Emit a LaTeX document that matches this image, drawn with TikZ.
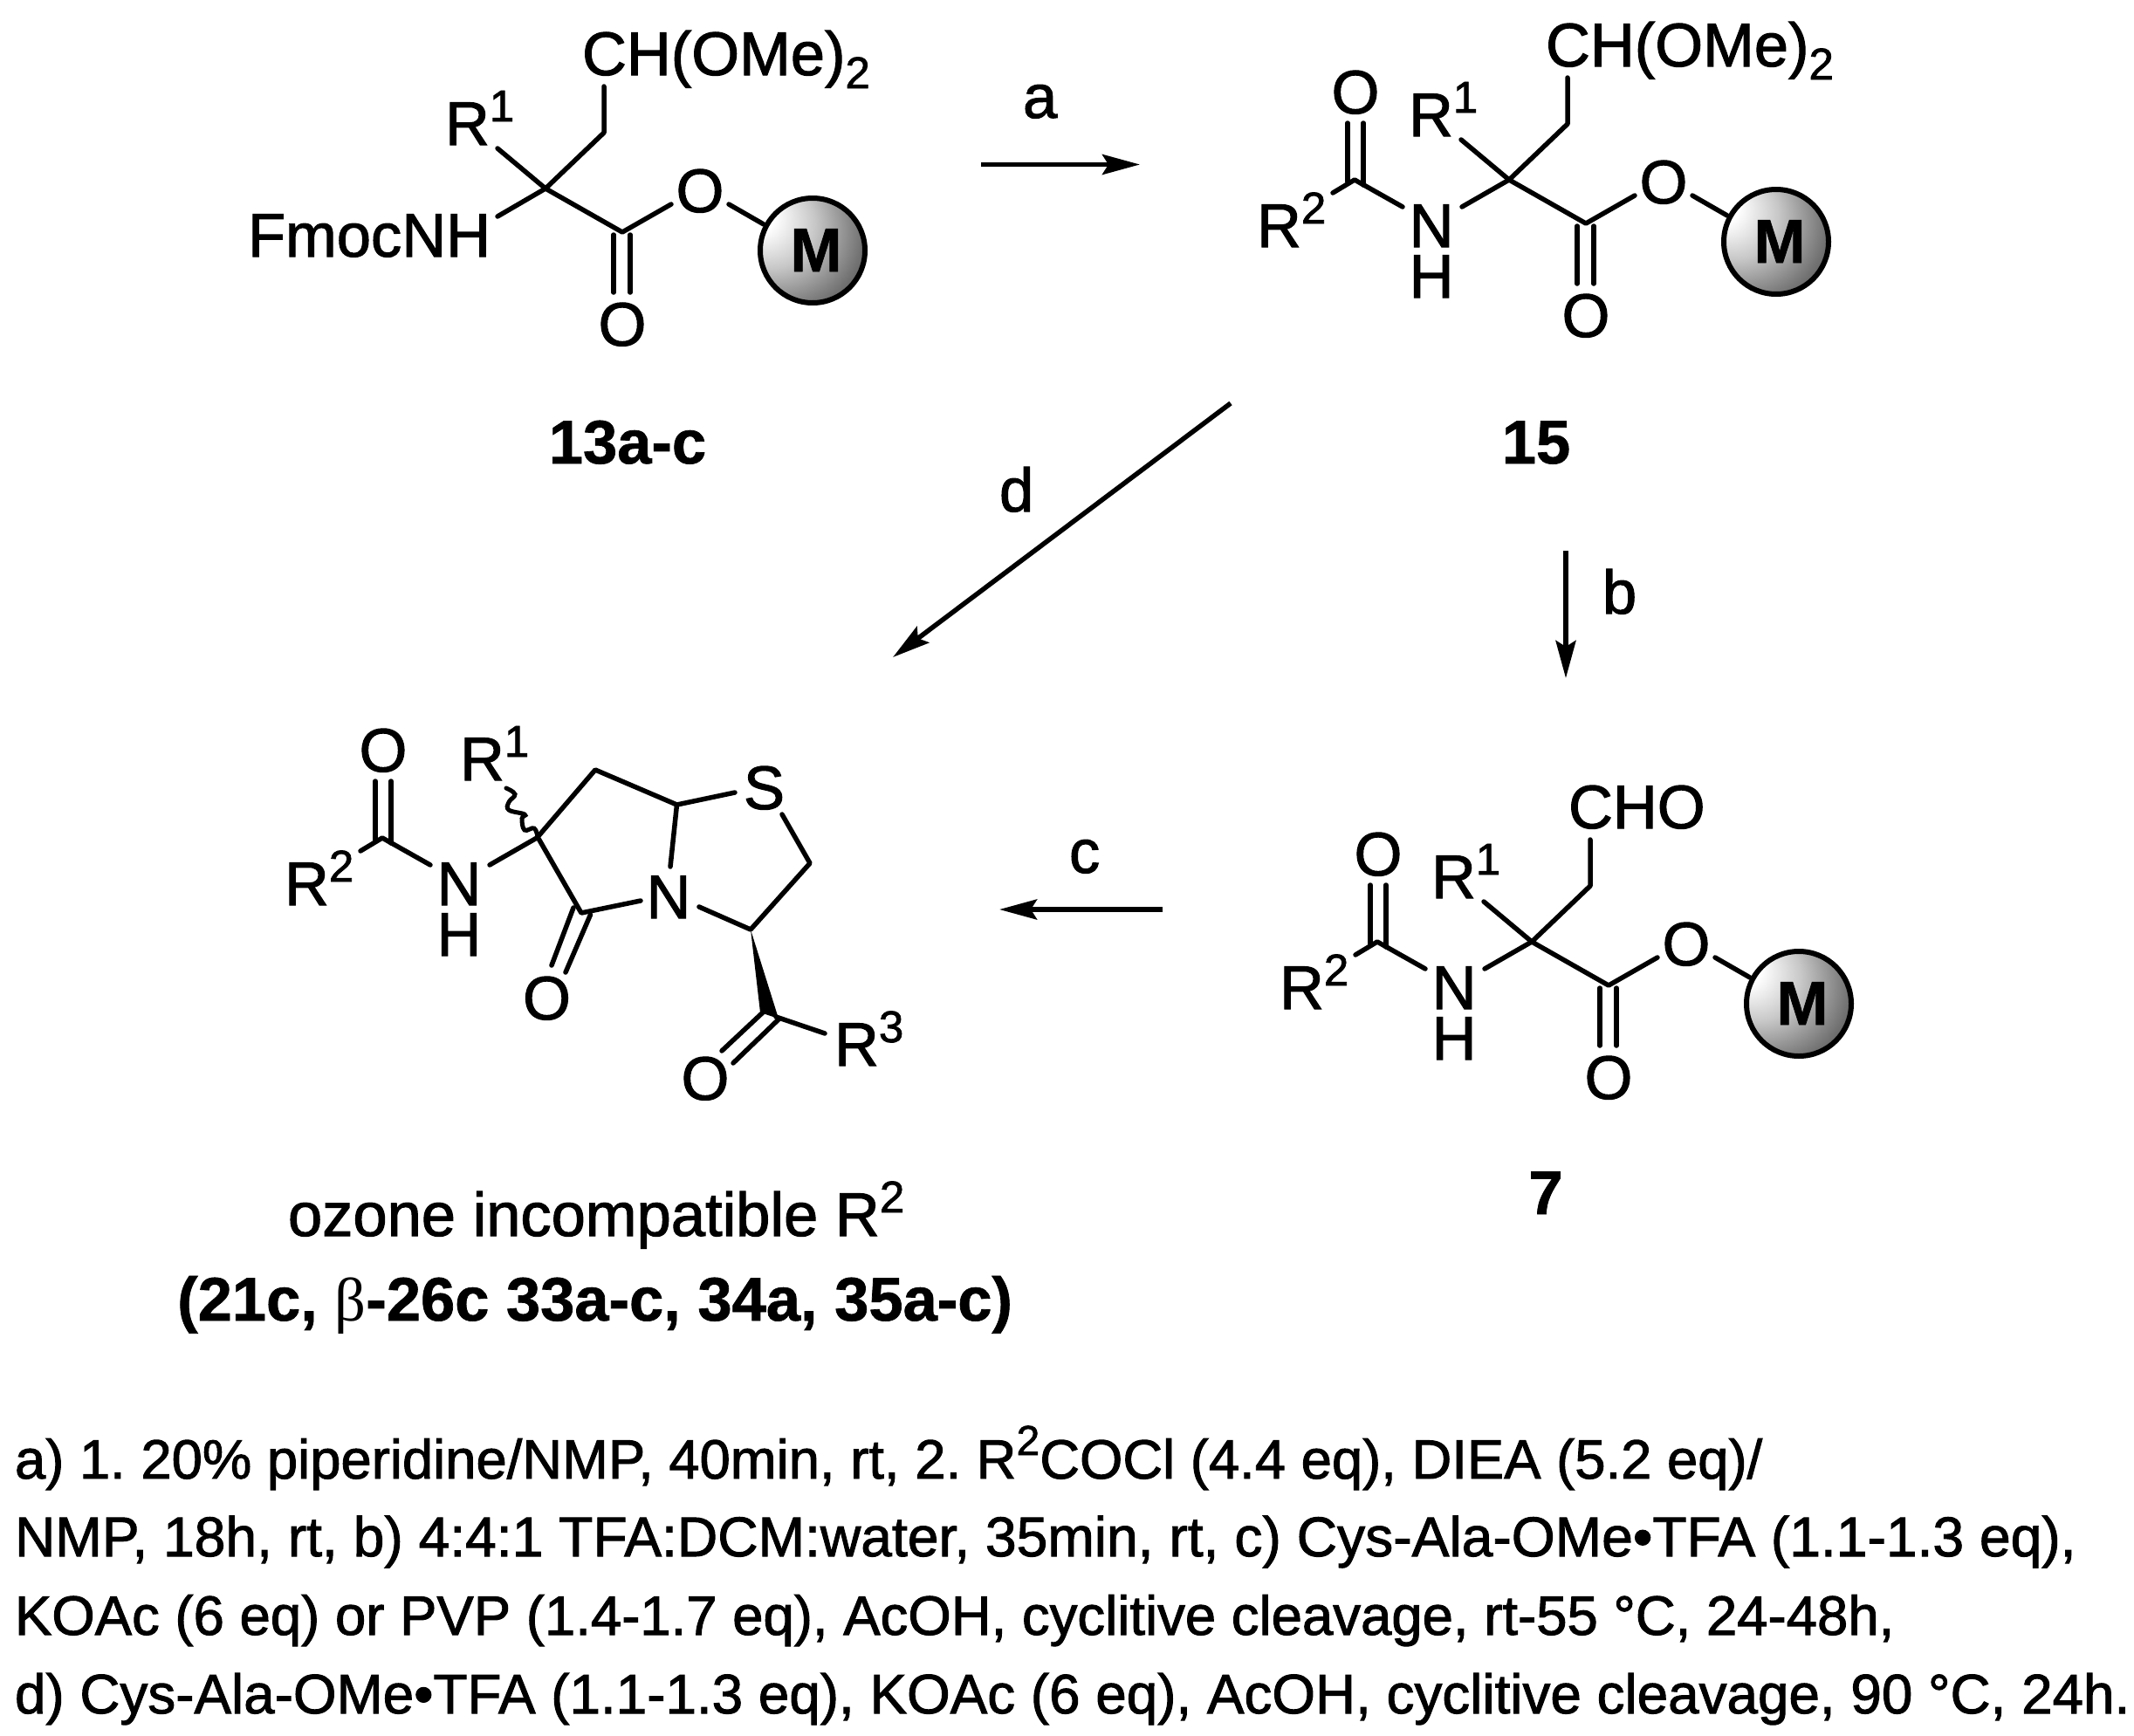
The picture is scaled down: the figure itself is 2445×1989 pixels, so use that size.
\documentclass[tikz,border=0pt]{standalone}
\usepackage{fontspec}
\setmainfont{Liberation Sans}[FakeBold=1.5,BoldFeatures={FakeBold=1}]
\newfontfamily\greekf{Liberation Serif}
\usetikzlibrary{arrows.meta}
\newcommand\chemf{\fontsize{70.5}{82}\selectfont}
\newcommand\notef{\fontsize{63.8}{72}\selectfont\frenchspacing}
\newcommand\upd[1]{\raisebox{27pt}{\fontsize{51}{51}\selectfont #1}}
\newcommand\dnd[1]{\raisebox{-15pt}{\fontsize{51}{51}\selectfont #1}}
\newcommand\nupd[1]{\raisebox{27pt}{\fontsize{48}{48}\selectfont #1}}
\pgfdeclareradialshading{mball}{\pgfpoint{-30bp}{19bp}}{%
  color(0bp)=(white); color(8bp)=(white); color(21bp)=(black!22);
  color(36bp)=(black!55); color(52bp)=(black!85); color(62bp)=(black)}
\tikzset{
  bond/.style={line width=5.5pt,line cap=round,line join=round},
  rxn/.style={line width=5.5pt,-{Stealth[length=43pt,width=23pt,inset=7pt]}},
  txt/.style={anchor=base west,inner sep=0pt,outer sep=0pt,font=\chemf},
  atom/.style={anchor=base,inner sep=0pt,outer sep=0pt,font=\chemf},
  cpd/.style={anchor=base,inner sep=0pt,outer sep=0pt,font=\chemf\bfseries},
  note/.style={anchor=base west,inner sep=0pt,outer sep=0pt,font=\notef},
  ball/.style={circle,draw=black,line width=6pt,shading=mball,minimum size=120pt,inner sep=0pt},
  mtxt/.style={anchor=base,inner sep=0pt,outer sep=0pt,font=\fontsize{71}{82}\selectfont\bfseries},
}
% resin-bound ester fragment, in the frame of compound 13
\newcommand\esterpart[4]{%
\begin{scope}[shift={(#2,#3)}]
  \coordinate (#1c) at (625,216);
  \coordinate (#1ch) at (692,152);
  \coordinate (#1tb) at (692,99);
  \coordinate (#1rb) at (570,170);
  \coordinate (#1co) at (713,266);
  \coordinate (#1oa) at (769,234);
  \coordinate (#1ob) at (835,234);
  \coordinate (#1mb) at (875,257);
  \coordinate (#1d1a) at (703,269);
  \coordinate (#1d1b) at (703,335);
  \coordinate (#1d2a) at (722,269);
  \coordinate (#1d2b) at (722,335);
  \draw[bond] (#1tb) -- (#1ch) -- (#1c) -- (#1co) -- (#1oa);
  \draw[bond] (#1rb) -- (#1c);
  \draw[bond] (#1d1a) -- (#1d1b);
  \draw[bond] (#1d2a) -- (#1d2b);
  \draw[bond] (#1ob) -- (#1mb);
  \node[ball] (#1ball) at (931,287) {};
  \node[mtxt] (#1mt) at (935,311) {M};
  \node[atom] (#1o1) at (802,243) {O};
  \node[atom] (#1o2) at (713,396) {O};
  \node[txt] (#1r1) at (510,166) {R\upd{1}};
  \node[txt] (#1top) at (667,86) {#4};
\end{scope}}
% amide fragment, in the frame of compound 15
\newcommand\amidepart[3]{%
\begin{scope}[shift={(#2,#3)}]
  \coordinate (#1ac) at (1552,206);
  \coordinate (#1r2b) at (1527,221);
  \coordinate (#1nb) at (1607,237);
  \coordinate (#1nc) at (1675,237);
  \coordinate (#1qc) at (1729,206);
  \coordinate (#1e1a) at (1544,141);
  \coordinate (#1e1b) at (1544,208);
  \coordinate (#1e2a) at (1562,141);
  \coordinate (#1e2b) at (1562,212);
  \draw[bond] (#1r2b) -- (#1ac) -- (#1nb);
  \draw[bond] (#1nc) -- (#1qc);
  \draw[bond] (#1e1a) -- (#1e1b);
  \draw[bond] (#1e2a) -- (#1e2b);
  \node[atom] (#1o3) at (1553,130) {O};
  \node[txt] (#1r2) at (1440,283) {R\upd{2}};
  \node[atom] (#1n) at (1640,283) {N};
  \node[atom] (#1h) at (1640,341) {H};
\end{scope}}
\begin{document}
\begin{tikzpicture}[x=1pt,y=-1pt]
\useasboundingbox (0,0) rectangle (2445,1989);
\fill[white] (0,0) rectangle (2445,1989);

% compound 13
\esterpart{A}{0}{0}{CH(OMe)\dnd{2}}
\coordinate (Anb) at (570,248);
\draw[bond] (Anb) -- (Ac);
\node[txt] (Afmoc) at (284,294) {FmocNH};
\node[cpd] (l13) at (719,531) {13a-c};

% compound 15
\esterpart{B}{1104}{-10}{CH(OMe)\dnd{2}}
\amidepart{Bp}{0}{0}
\node[cpd] (l15) at (1760,531) {15};

% compound 7
\esterpart{C}{1130}{863}{CHO}
\amidepart{Cp}{26}{873}
\node[cpd] (l7) at (1771,1391) {7};

% bicyclic product
\amidepart{D}{-1114}{754}
\coordinate (Dq) at (616,959);
\coordinate (Dch2) at (682,882);
\coordinate (Dch) at (775.5,922);
\coordinate (Ds1) at (842,908);
\coordinate (Ds2) at (896,933);
\coordinate (Dc5) at (928,989);
\coordinate (Dc3) at (860,1065);
\coordinate (Dn1) at (801,1039);
\coordinate (Dn2) at (768,993);
\coordinate (Dn3) at (734,1032);
\coordinate (Dlc) at (666,1046);
\coordinate (Dw1) at (871,1160);
\coordinate (Dw2) at (892,1167);
\coordinate (Dkc) at (889,1165);
\coordinate (Dr3b) at (945,1184);
\draw[bond] (Dn3) -- (Dlc) -- (Dq) -- (Dch2) -- (Dch) -- (Ds1);
\draw[bond] (Dch) -- (Dn2);
\draw[bond] (Ds2) -- (Dc5) -- (Dc3) -- (Dn1);
\coordinate (Dla1) at (657,1040);
\coordinate (Dla2) at (632,1106);
\coordinate (Dlb1) at (676.5,1048);
\coordinate (Dlb2) at (648,1114);
\draw[bond] (Dla1) -- (Dla2);
\draw[bond] (Dlb1) -- (Dlb2);
\fill (Dc3) -- (Dw1) -- (Dw2) -- cycle;
\draw[bond] (Dkc) -- (Dr3b);
\coordinate (Dka1) at (874,1160);
\coordinate (Dka2) at (827,1204);
\coordinate (Dkb1) at (892,1168);
\coordinate (Dkb2) at (840,1218);
\draw[bond] (Dka1) -- (Dka2);
\draw[bond] (Dkb1) -- (Dkb2);
\coordinate (Dwv) at (580,903);
\draw[line width=5pt,line cap=round] plot[smooth,tension=0.7] coordinates {(Dq) (612,949) (601,951) (598,938) (601,933) (583,928) (583,919) (590,910) (Dwv)};
\node[txt] (Dr1) at (527,894) {R\upd{1}};
\node[atom] (DS) at (875.5,927) {S};
\node[atom] (DN) at (766,1052) {N};
\node[atom] (Do4) at (626.5,1168) {O};
\node[atom] (Do5) at (808,1260) {O};
\node[txt] (Dr3) at (956,1221) {R\upd{3}};
\node[txt] (lozone) at (330,1416) {ozone incompatible R\upd{2}};
\node[anchor=base west,inner sep=0pt,font=\chemf\bfseries] (lbold) at (203,1513) {(21c, {\greekf\mdseries β}-26c 33a-c, 34a, 35a-c)};

% reaction arrows
\coordinate (a0) at (1124,188.5);
\coordinate (a1) at (1306,188.5);
\coordinate (b0) at (1794,631);
\coordinate (b1) at (1794,777);
\coordinate (c0) at (1332,1042);
\coordinate (c1) at (1145,1042);
\coordinate (d0) at (1410,462);
\coordinate (d1) at (1023,753);
\draw[rxn] (a0) -- (a1);
\draw[rxn] (b0) -- (b1);
\draw[rxn] (c0) -- (c1);
\draw[rxn] (d0) -- (d1);
\node[txt] (la) at (1172,135) {a};
\node[txt] (lb) at (1836,703) {b};
\node[txt] (lc) at (1225,1000) {c};
\node[txt] (ld) at (1145,586) {d};

% conditions
\node[note,font=\fontsize{63.4}{72}\selectfont\frenchspacing] (n1) at (17,1694) {a) 1. 20\% piperidine/NMP, 40min, rt, 2. R\nupd{2}COCl (4.4 eq), DIEA (5.2 eq)/};
\node[note,font=\fontsize{64.2}{72}\selectfont\frenchspacing] (n2) at (17,1783) {NMP, 18h, rt, b) 4:4:1 TFA:DCM:water, 35min, rt, c) Cys-Ala-OMe•TFA (1.1-1.3 eq),};
\node[note,font=\fontsize{63.5}{72}\selectfont\frenchspacing] (n3) at (17,1873) {KOAc (6 eq) or PVP (1.4-1.7 eq), AcOH, cyclitive cleavage, rt-55 °C, 24-48h,};
\node[note] (n4) at (17,1963) {d) Cys-Ala-OMe•TFA (1.1-1.3 eq), KOAc (6 eq), AcOH, cyclitive cleavage, 90 °C, 24h.};
\end{tikzpicture}
\end{document}
